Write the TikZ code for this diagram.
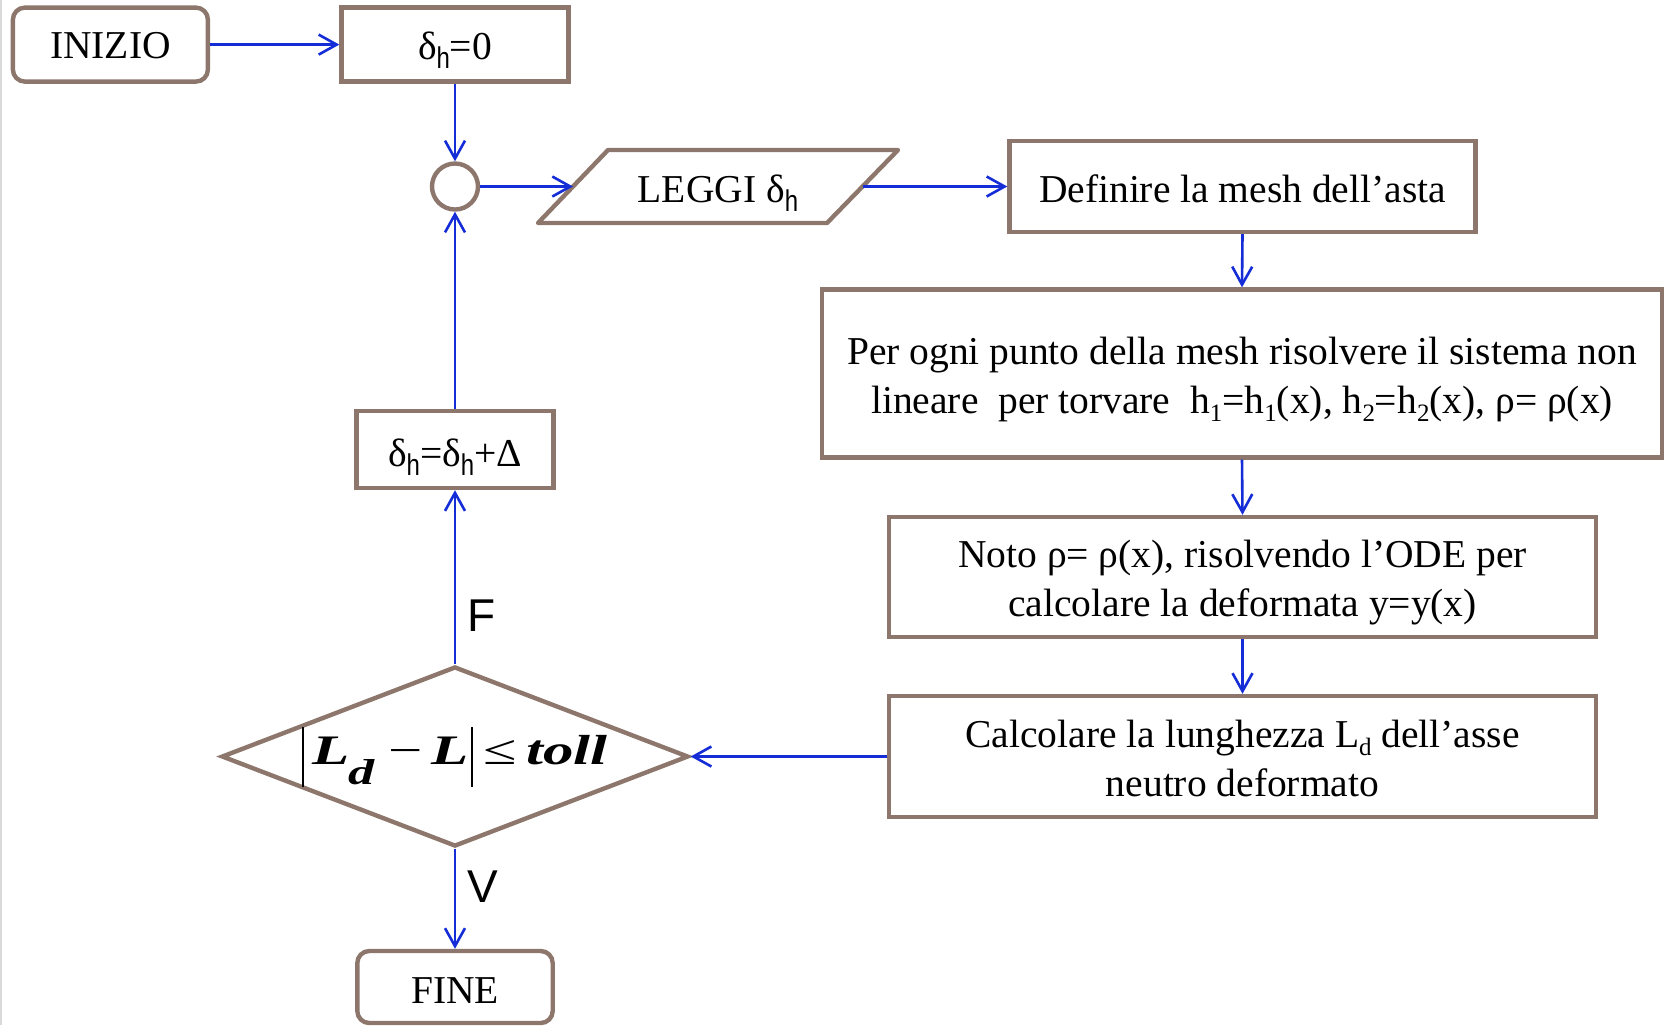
\documentclass[tikz,border=0pt]{standalone}
\usepackage{fontspec}
\setmainfont{Liberation Serif}
\setsansfont{Liberation Sans}
\usepackage{graphicx}
\usetikzlibrary{shapes.geometric,arrows.meta}
\definecolor{boxc}{RGB}{141,119,108}
\definecolor{arrc}{RGB}{20,45,215}
\newcommand{\hsub}{\smash{\raisebox{-4.5pt}{\sffamily\fontsize{15}{16}\selectfont\scalebox{0.8}[1]{h}}}}
\newcommand{\deltah}{δ\hsub}
\newcommand{\tsub}[1]{\smash{\raisebox{-4pt}{\fontsize{12.5}{13}\selectfont #1}}}
\newcommand{\fbar}{\rule[-11.25pt]{0.7pt}{30pt}}
\newcommand{\lowr}[2]{\raisebox{-#1}[\height][\depth]{#2}}
\newcommand{\twolines}[2]{\raisebox{-2.8pt}[\height][\depth]{\begin{tabular}{@{}c@{}}#2\end{tabular}}}
\begin{document}
\begin{tikzpicture}[x=0.5pt,y=-0.5pt,
  every node/.style={font=\fontsize{19.75}{24.5}\selectfont, inner sep=0pt, align=center},
  pbox/.style={draw=boxc, line width=2.2pt, rectangle},
  rbox/.style={pbox, rounded corners=6pt},
  arr/.style={draw=arrc, line width=1.3pt, -{Straight Barb[length=9pt,width=10pt]}},
  lbl/.style={font=\sffamily\fontsize{23}{24}\selectfont}
]
\useasboundingbox (0,0) rectangle (1664,1025);
\draw[gray!30, line width=1pt] (1,0) -- (1,1025);

\node[rbox, minimum width=97.5pt, minimum height=37pt] (ini) at (110.4,44.6) {\lowr{0.5pt}{INIZIO}};
\node[pbox, minimum width=113.5pt, minimum height=37pt] (d0) at (455,44.6) {\lowr{0.5pt}{\deltah=0}};
\node[circle, draw=boxc, line width=2.2pt, minimum size=23pt] (circ) at (455,186.5) {};
\draw[draw=boxc, line width=2.2pt, line join=round] (538,223) -- (608,150) -- (898,150) -- (827,223) -- cycle;
\node (leggi) at (718,186.5) {\lowr{1pt}{LEGGI \deltah}};
\coordinate (leggiW) at (573,186.5);
\coordinate (leggiE) at (862.5,186.5);
\node[pbox, minimum width=233pt, minimum height=45.5pt] (def) at (1242.5,186.5) {\lowr{1pt}{Definire la mesh dell’asta}};
\node[pbox, minimum width=420pt, minimum height=84pt] (per) at (1242,373.5) {\twolines{2.8pt}{Per ogni punto della mesh risolvere il sistema non\\lineare\ \ per torvare\ \ h\tsub{1}=h\tsub{1}(x), h\tsub{2}=h\tsub{2}(x), ρ= ρ(x)}};
\node[pbox, minimum width=353.5pt, minimum height=60pt] (noto) at (1242.5,577) {\twolines{2.8pt}{Noto ρ= ρ(x), risolvendo l’ODE per\\calcolare la deformata y=y(x)}};
\node[pbox, minimum width=353.5pt, minimum height=60.5pt] (calc) at (1242.5,756.5) {\twolines{2.8pt}{Calcolare la lunghezza L\tsub{d} dell’asse\\neutro deformato}};
\node[diamond, draw=boxc, line width=2.2pt, minimum width=233.5pt, minimum height=90pt, aspect=1] (cond) at (455,756.5)
  {\makebox[0pt]{\smash{\raisebox{-4pt}{\scalebox{1.45}[1]{\fontsize{21}{22}\selectfont\bfseries\itshape\fbar\hspace{2.7pt}L\hspace{-0.5pt}\raisebox{-10pt}{\fontsize{18}{18}\selectfont d}\hspace{5pt}{\mdseries\upshape −}\hspace{3pt}L\hspace{0.8pt}\fbar\hspace{3.5pt}{\mdseries\upshape ≤}\hspace{3.3pt}toll}}}}};
\node[pbox, minimum width=98.5pt, minimum height=38.5pt] (inc) at (455,449.5) {\lowr{1.5pt}{\deltah=\deltah+Δ}};
\node[rbox, minimum width=97.7pt, minimum height=36pt] (fine) at (455,987) {\lowr{2pt}{FINE}};

\draw[arr] (ini.east) -- (d0.west);
\draw[arr] (d0.south) -- (circ.north);
\draw[arr] (circ.east) -- (leggiW);
\draw[arr] (leggiE) -- (def.west);
\draw[arr] (def.south) -- (per.north);
\draw[arr] (per.south) -- (noto.north);
\draw[arr] (noto.south) -- (calc.north);
\draw[arr] (calc.west) -- (cond.east);
\draw[arr] (cond.north) -- node[lbl, pos=0.28, xshift=13.25pt] (lblF) {F} (inc.south);
\draw[arr] (inc.north) -- (circ.south);
\draw[arr] (cond.south) -- node[lbl, pos=0.375, xshift=14pt] (lblV) {V} (fine.north);
\end{tikzpicture}
\end{document}
